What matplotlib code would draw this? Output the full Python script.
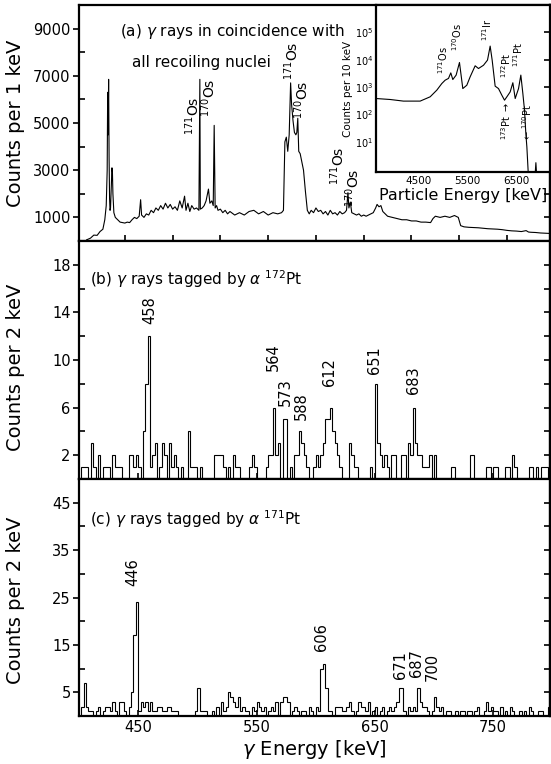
import numpy as np
import matplotlib.pyplot as plt

# (a) gamma rays in coincidence with all recoils, counts per 1 keV
a_energy = [20, 28, 35, 42, 48, 54, 58, 61, 63, 64, 65, 66, 67, 68, 69, 70, 72, 73, 74, 75, 77, 80,
            85, 90, 95, 100, 105, 110, 115, 120, 125, 130, 133, 135, 140, 145, 150, 155, 160, 165,
            170, 175, 180, 185, 190, 195, 200, 205, 210, 215, 220, 225, 228, 232, 236, 240, 245,
            250, 255, 257, 258, 262, 266, 270, 275, 278, 282, 285, 287, 289, 292, 295, 300, 305,
            310, 315, 320, 330, 340, 350, 360, 370, 380, 390, 400, 410, 420, 428, 432, 435, 438,
            441, 444, 447, 449, 452, 455, 458, 460, 462, 464, 467, 470, 474, 478, 482, 486, 490,
            495, 500, 505, 510, 515, 520, 525, 530, 535, 540, 545, 550, 555, 560, 564, 567, 569,
            572, 575, 580, 585, 590, 595, 600, 605, 610, 615, 620, 625, 628, 632, 636, 640, 645,
            650, 660, 670, 680, 690, 700, 710, 720, 730, 740, 745, 750, 760, 770, 780, 790, 798,
            803, 810, 820, 830, 840, 850, 860, 870, 880, 890, 900, 910, 920, 930, 940, 945, 950,
            960, 970, 980, 990]
a_counts = [50, 120, 250, 240, 400, 500, 900, 1500, 3000, 6300, 4500, 6850, 3500, 1800, 1300, 1400,
            2500, 3100, 2900, 2000, 1200, 1000, 900, 800, 780, 760, 800, 780, 900, 1000, 950, 1050,
            1750, 1100, 1000, 1150, 1100, 1300, 1200, 1400, 1300, 1500, 1350, 1600, 1400, 1550,
            1350, 1450, 1300, 1700, 1400, 1900, 1300, 1600, 1250, 1500, 1350, 1400, 1300, 6850,
            1350, 1400, 1500, 1700, 2200, 1600, 1700, 1500, 4900, 1400, 1500, 1300, 1350, 1200,
            1300, 1150, 1250, 1100, 1200, 1100, 1250, 1300, 1150, 1250, 1100, 1200, 1150, 1200,
            1300, 4200, 4400, 3800, 4500, 6700, 5800, 5100, 4600, 4500, 4600, 5200, 3800, 3700,
            3400, 3000, 2100, 1300, 1150, 1300, 1200, 1400, 1250, 1300, 1150, 1250, 1100, 1300,
            1150, 1200, 1100, 1250, 1150, 1200, 1300, 2050, 1400, 1650, 1200, 1150, 1100, 1150,
            1050, 1100, 1050, 1100, 1150, 1200, 1400, 1550, 1450, 1500, 1250, 1150, 1050, 1000,
            950, 900, 900, 850, 850, 800, 800, 780, 950, 1050, 1000, 1050, 1000, 1080, 1000, 650,
            600, 580, 570, 560, 540, 520, 510, 500, 480, 450, 430, 420, 400, 440, 380, 370, 360,
            340, 330, 320]

# inset: particle energy spectrum, counts per 10 keV
in_energy = [3643, 3929, 4200, 4541, 4745, 4881, 4983, 5051, 5119, 5166, 5207, 5275, 5343, 5411,
             5493, 5561, 5663, 5731, 5833, 5915, 5969, 6010, 6071, 6139, 6207, 6262, 6310, 6377,
             6432, 6480, 6548, 6595, 6636, 6670, 6697, 6718, 6745, 6890, 6902, 6914]
in_counts = [385, 355, 310, 310, 445, 780, 1360, 1800, 2090, 3330, 1900, 2760, 7960, 890, 1180,
             2390, 6030, 4800, 6310, 9730, 31600, 9730, 1090, 890, 510, 335, 445, 670, 1450, 385,
             890, 2760, 590, 145, 20, 6.6, 0.8, 0.8, 1.75, 0.8]

# (b) tagged by alpha 172Pt, counts per 2 keV bin from 400 keV
bin_start = 400
bin_width = 2
b_counts = [0, 1, 1, 1, 0, 3, 1, 0, 2, 0,
            1, 1, 1, 0, 2, 1, 1, 1, 0, 0,
            0, 2, 2, 1, 2, 1, 0, 4, 8, 12,
            1, 2, 3, 0, 1, 3, 2, 0, 3, 1,
            2, 1, 0, 1, 0, 0, 4, 1, 1, 1,
            0, 1, 0, 0, 0, 0, 0, 2, 2, 2,
            2, 1, 0, 1, 0, 2, 1, 1, 0, 0,
            0, 0, 1, 2, 1, 0, 0, 0, 0, 1,
            2, 2, 6, 2, 3, 0, 5, 5, 0, 1,
            0, 2, 2, 4, 3, 2, 1, 0, 0, 1,
            2, 1, 2, 3, 5, 5, 6, 4, 3, 2,
            1, 0, 0, 0, 3, 2, 1, 1, 0, 0,
            0, 0, 0, 1, 0, 8, 3, 2, 1, 2,
            1, 0, 2, 2, 0, 0, 2, 2, 0, 3,
            2, 6, 3, 2, 2, 1, 1, 1, 2, 0,
            2, 0, 0, 0, 0, 0, 0, 1, 1, 0,
            0, 0, 0, 0, 0, 2, 2, 0, 0, 0,
            0, 0, 1, 1, 0, 1, 1, 0, 0, 0,
            1, 1, 0, 2, 1, 0, 0, 0, 0, 0,
            1, 1, 0, 1, 0, 1, 1, 1, 0, 0]

# (c) tagged by alpha 171Pt
c_counts = [0, 2, 7, 2, 1, 1, 0, 1, 2, 0,
            1, 2, 2, 1, 3, 1, 0, 3, 3, 1,
            0, 2, 5, 17, 24, 1, 3, 2, 3, 1,
            3, 1, 1, 2, 2, 1, 1, 2, 2, 1,
            1, 1, 0, 0, 0, 0, 0, 0, 0, 1,
            6, 1, 1, 1, 0, 0, 1, 0, 2, 0,
            3, 1, 2, 5, 4, 3, 2, 4, 1, 2,
            1, 1, 0, 2, 1, 3, 2, 1, 2, 0,
            1, 2, 1, 3, 0, 3, 4, 4, 3, 0,
            1, 2, 1, 0, 1, 1, 0, 2, 1, 0,
            2, 1, 10, 11, 6, 1, 1, 0, 2, 2,
            2, 1, 1, 2, 3, 1, 0, 1, 3, 2,
            2, 1, 3, 0, 1, 2, 0, 1, 2, 0,
            1, 2, 1, 2, 3, 6, 6, 1, 0, 2,
            1, 2, 1, 6, 3, 2, 2, 1, 0, 1,
            4, 2, 1, 2, 0, 1, 1, 0, 0, 1,
            0, 1, 1, 0, 1, 1, 0, 1, 2, 0,
            0, 1, 3, 1, 2, 1, 1, 0, 2, 0,
            1, 0, 2, 1, 0, 0, 1, 0, 1, 0,
            2, 1, 0, 0, 1, 1, 0, 0, 2, 0]

# peak labels
a_labels = [(242, 5310, '171'), (276, 6070, '170'), (450, 7650, '171'),
            (471, 5990, '170'), (545, 3200, '171'), (576, 2250, '170')]
b_labels = [(460, 14.2, '458'), (564, 10.2, '564'), (574, 7.3, '573'), (588, 6.1, '588'),
            (612, 9.0, '612'), (650, 10.0, '651'), (683, 8.3, '683')]
c_labels = [(445.5, 30.3, '446'), (605, 16.7, '606'), (672, 10.8, '671'),
            (685, 11.2, '687'), (698.5, 10.4, '700')]
in_labels = [(5003, 9700, '$^{171}$Os'), (5303, 66000, '$^{170}$Os'), (5902, 129000, '$^{171}$Ir'),
             (6290, 6300, '$^{172}$Pt'), (6530, 16000, '$^{171}$Pt'),
             (6296, 59, '$^{173}$Pt $\\rightarrow$'), (6731, 50, '$\\leftarrow$$^{170}$Pt')]

plt.rcParams['font.family'] = 'DejaVu Sans'
plt.rcParams['mathtext.fontset'] = 'dejavusans'

W, H = 551, 764
fig = plt.figure(figsize=(W / 100, H / 100), dpi=100)


def box(l, t, r, b):
    return [l / W, 1 - b / H, (r - l) / W, (b - t) / H]


ax_a = fig.add_axes(box(79, 5, 550, 241))
ax_b = fig.add_axes(box(79, 241, 550, 479))
ax_c = fig.add_axes(box(79, 479, 550, 716))
ins = fig.add_axes(box(376, 5, 550, 172))


def style(ax, yticks, yminor, xticks, xminor):
    for s in ax.spines.values():
        s.set_linewidth(1.6)
    ax.set_yticks(yticks)
    ax.set_yticks(yminor, minor=True)
    ax.set_xticks(xticks)
    ax.set_xticks(xminor, minor=True)
    ax.tick_params(axis='y', which='major', direction='out', length=4, width=1.2, labelsize=10.5, pad=2)
    ax.tick_params(axis='y', which='minor', direction='in', length=4, width=1.2)
    ax.tick_params(axis='x', which='both', direction='in', length=4, width=1.2, labelsize=10.5, pad=3)
    sec = ax.secondary_yaxis('right')
    sec.set_yticks(sorted(list(yticks) + list(yminor)))
    sec.tick_params(direction='in', length=4, width=1.2, labelright=False)
    sec.spines['right'].set_linewidth(1.6)


# panel (a)
ax_a.plot(a_energy, a_counts, color='black', lw=0.8)
ax_a.set_xlim(4, 990)
ax_a.set_ylim(0, 10000)
style(ax_a, [1000, 3000, 5000, 7000, 9000], [2000, 4000, 6000, 8000],
      [100, 300, 500, 700, 900], [200, 400, 600, 800])
ax_a.set_ylabel('Counts per 1 keV', fontsize=14)
ax_a.yaxis.set_label_coords(-0.115, 0.5)
ax_a.text(90, 8860, '(a) $\\gamma$ rays in coincidence with', fontsize=11, va='center')
ax_a.text(115, 7550, 'all recoiling nuclei', fontsize=11, va='center')
for e, y, m in a_labels:
    ax_a.text(e, y, '$^{%s}$Os' % m, rotation=90, fontsize=10, ha='center', va='center')

# inset
ins.set_facecolor('white')
ins.set_zorder(5)
ins.plot(in_energy, in_counts, color='black', lw=0.8)
ins.set_yscale('log')
ins.set_xlim(3640, 7190)
ins.set_ylim(0.8, 1e6)
for s in ins.spines.values():
    s.set_linewidth(1.6)
ins.set_xticks([4500, 5500, 6500])
ins.set_yticks([10, 100, 1000, 1e4, 1e5])
ins.set_yticks([], minor=True)
ins.tick_params(axis='x', length=0, labelsize=7.5, pad=3)
ins.tick_params(axis='y', length=0, labelsize=7, pad=2)
ins_r = ins.secondary_yaxis('right')
ins_r.set_yscale('log')
ins_r.set_yticks([10, 100, 1000, 1e4, 1e5])
ins_r.set_yticks([], minor=True)
ins_r.tick_params(direction='in', length=4, width=1.2, labelright=False)
ins.set_xlabel('Particle Energy [keV]', fontsize=11.5, labelpad=1)
ins.set_ylabel('Counts per 10 keV', fontsize=7.5, labelpad=1)
for e, y, s in in_labels:
    ins.text(e, y, s, rotation=90, fontsize=7, ha='center', va='center')

# panel (b)
edges = bin_start + bin_width * np.arange(len(b_counts) + 1)
ax_b.stairs(b_counts, edges, color='black', lw=0.8)
ax_b.set_xlim(400, 798)
ax_b.set_ylim(0, 20)
style(ax_b, [2, 6, 10, 14, 18], [4, 8, 12, 16], [450, 550, 650, 750], [])
ax_b.set_ylabel('Counts per 2 keV', fontsize=14)
ax_b.yaxis.set_label_coords(-0.115, 0.47)
ax_b.text(409, 16.8, '(b) $\\gamma$ rays tagged by $\\alpha$ $^{172}$Pt', fontsize=11, va='center')
for e, y, s in b_labels:
    ax_b.text(e, y, s, rotation=90, fontsize=10.5, ha='center', va='center')

# panel (c)
ax_c.stairs(c_counts, edges, color='black', lw=0.8)
ax_c.set_xlim(400, 798)
ax_c.set_ylim(0, 50)
style(ax_c, [5, 15, 25, 35, 45], [10, 20, 30, 40], [450, 550, 650, 750], [])
ax_c.set_ylabel('Counts per 2 keV', fontsize=14)
ax_c.yaxis.set_label_coords(-0.115, 0.49)
ax_c.text(409, 41.5, '(c) $\\gamma$ rays tagged by $\\alpha$ $^{171}$Pt', fontsize=11, va='center')
for e, y, s in c_labels:
    ax_c.text(e, y, s, rotation=90, fontsize=10.5, ha='center', va='center')
ax_c.set_xlabel('$\\gamma$ Energy [keV]', fontsize=14, labelpad=2)

fig.savefig('out.png', dpi=100)
